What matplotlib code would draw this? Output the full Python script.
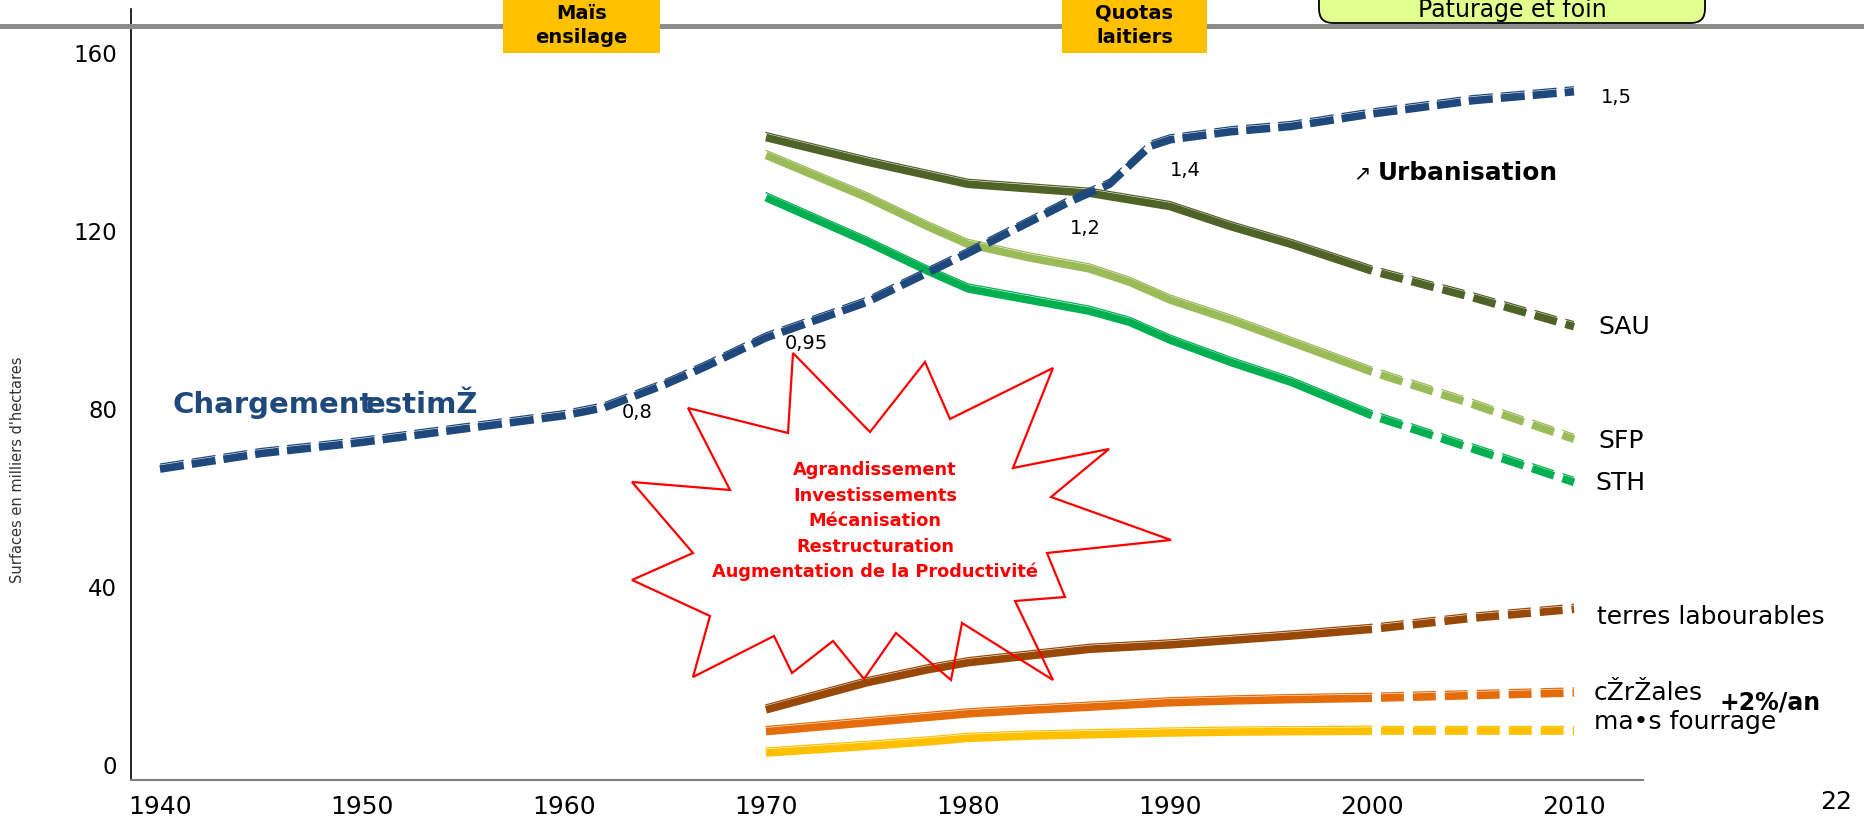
import matplotlib
matplotlib.use("Agg")
import matplotlib.pyplot as plt
from matplotlib.transforms import IdentityTransform, offset_copy
from matplotlib.patches import Polygon, Rectangle, FancyBboxPatch
from matplotlib.lines import Line2D

W, H = 1865, 822

# ---------------- data ----------------
charge_years = [1940, 1945, 1950, 1955, 1960, 1962, 1965, 1967, 1970, 1975, 1980,
                1985, 1987, 1989, 1990, 1993, 1996, 2000, 2005, 2010]
charge_vals = [66.5, 70, 72.5, 75.5, 78.5, 80.3, 85.5, 89.5, 96, 104, 115,
               126.5, 130.5, 139, 140.5, 142.3, 143.5, 146.3, 149.3, 151.3]
charge_labels = ["0,8", "0,95", "1,2", "1,4", "1,5"]

years = [1970, 1975, 1978, 1980, 1983, 1986, 1988, 1990, 1993, 1996, 2000, 2005, 2010]
sau = [141, 135.5, 132.5, 130.5, 129.5, 128.5, 127, 125.5, 121, 117, 111, 105, 98.5]
sfp = [137, 127.5, 121, 117, 114, 111.5, 108.5, 104.5, 100, 95, 88.3, 81, 73.2]
sth = [127.5, 117.5, 111, 107, 104.5, 102, 99.5, 95.5, 90.5, 86, 78.5, 71, 63.5]
terres = [12.4, 18.5, 21.4, 23, 24.5, 26, 26.5, 27, 28, 29, 30.5, 33, 35]
cereales = [7.5, 9.5, 10.7, 11.5, 12.3, 13, 13.5, 14, 14.4, 14.7, 15, 15.6, 16.2]
mais = [2.7, 4.2, 5.2, 6, 6.5, 6.8, 7, 7.2, 7.4, 7.5, 7.6, 7.6, 7.6]
series_names = ["SAU", "SFP", "STH", "terres labourables", "cŽrŽales", "ma•s fourrage"]
series_colors = ["#4f6228", "#9bbb59", "#00b050", "#984807", "#e46c0a", "#ffc000"]
proj_start = 2000

x_ticks = [1940, 1950, 1960, 1970, 1980, 1990, 2000, 2010]
y_ticks = [0, 40, 80, 120, 160]

# ---------------- figure ----------------
fig = plt.figure(figsize=(W / 100, H / 100), dpi=100)
ax = fig.add_axes([131 / W, (H - 780) / H, (1643 - 131) / W, (780 - 9) / H])
ax.set_facecolor("none")
ax.set_xlim(1940 - 29 / 20.2, 1940 + (1643 - 160) / 20.2)
ax.set_ylim(-(780 - 765) / 4.45, (765 - 9) / 4.45)
ax.set_xticks(x_ticks)
ax.set_yticks(y_ticks)
ax.tick_params(axis="both", length=0)
ax.tick_params(axis="x", labelsize=18, pad=11)
ax.tick_params(axis="y", labelsize=16.5, pad=10)
for s in ("top", "right"):
    ax.spines[s].set_visible(False)
ax.spines["left"].set_color("black")
ax.spines["left"].set_linewidth(1.2)
ax.spines["bottom"].set_color("#7f7f7f")
ax.spines["bottom"].set_linewidth(1.5)

LW = 5.5
shadow = offset_copy(ax.transData, fig=fig, x=0, y=5, units="dots")

# chargement (dashed all along)
ax.plot(charge_years, charge_vals, color="#1f497d", lw=LW,
        linestyle=(0, (3.15, 1.05)), dash_capstyle="butt", solid_capstyle="butt", zorder=4)
ax.plot(charge_years, charge_vals, color="#1f497d", lw=0.9,
        linestyle=(0, (3.15 * LW / 0.9, 1.05 * LW / 0.9)), transform=shadow, zorder=4)

for vals, col in zip([sau, sfp, sth, terres, cereales, mais], series_colors):
    ys_solid = [y for y in years if y <= proj_start]
    vs_solid = vals[:len(ys_solid)]
    ys_proj = [y for y in years if y >= proj_start]
    vs_proj = vals[len(ys_solid) - 1:]
    ax.plot(ys_solid, vs_solid, color=col, lw=LW, solid_capstyle="butt", zorder=3)
    ax.plot(ys_solid, vs_solid, color=col, lw=0.9, transform=shadow, zorder=3)
    ax.plot(ys_proj, vs_proj, color=col, lw=LW, linestyle=(3.0, (3.0, 1.18)),
            dash_capstyle="butt", zorder=3)
    ax.plot(ys_proj, vs_proj, color=col, lw=0.9, transform=shadow,
            linestyle=(3.0 * LW / 0.9, (3.0 * LW / 0.9, 1.18 * LW / 0.9)), zorder=3)

T = IdentityTransform()


def P(x, y):
    return x, H - y


# ---------------- header decorations ----------------
fig.add_artist(Line2D([0, W], [H - 26, H - 26], transform=T, color="#8c8c8c", lw=3.6, zorder=1))

for (x0, x1), lines in [((503, 660), ["Maïs", "ensilage"]), ((1062, 1207), ["Quotas", "laitiers"])]:
    fig.add_artist(Rectangle(P(x0, 53), x1 - x0, 80, transform=T, facecolor="#ffc000",
                             edgecolor="none", zorder=2))
    cx = (x0 + x1) / 2
    for ty, t in zip([13, 37], lines):
        fig.text(*P(cx, ty), t, transform=T, ha="center", va="center", fontsize=14,
                 fontweight="bold", color="black", zorder=3)

fig.add_artist(FancyBboxPatch(P(1319, 23), 1705 - 1319, 60, transform=T,
                              boxstyle="round,pad=0,rounding_size=14",
                              facecolor="#e0ff8f", edgecolor="black", lw=1.3, zorder=2))
fig.text(*P(1512, 17), "Paturage et foin", transform=T, ha="center", va="baseline",
         fontsize=17, color="black", zorder=3)

# ---------------- labels ----------------
fig.text(*P(172, 413), "Chargement", transform=T, ha="left", va="baseline", fontsize=21,
         fontweight="bold", color="#1f497d")
fig.text(*P(366, 413), "estimŽ", transform=T, ha="left", va="baseline", fontsize=21,
         fontweight="bold", color="#1f497d")

for (lx, ly), t in zip([(637, 412), (806, 343), (1085, 228), (1185, 170), (1616, 97)], charge_labels):
    fig.text(*P(lx, ly), t, transform=T, ha="center", va="center", fontsize=14, color="black")

label_pos = [(1598, 327), (1598, 441), (1595, 483), (1597, 617), (1594, 693), (1594, 722)]
for (lx, ly), t in zip(label_pos, series_names):
    fig.text(*P(lx, ly), t, transform=T, ha="left", va="center", fontsize=18, color="black")
fig.text(*P(1720, 702), "+2%/an", transform=T, ha="left", va="center", fontsize=17,
         fontweight="bold", color="black")

fig.text(*P(1353, 173), "↗", transform=T, ha="left", va="center", fontsize=15, color="black")
fig.text(*P(1378, 173), "Urbanisation", transform=T, ha="left", va="center", fontsize=17.8,
         fontweight="bold", color="black")

fig.text(*P(18, 470), "Surfaces en milliers d'hectares", transform=T, ha="center", va="center",
         rotation=90, fontsize=10.5, color="#333333")

fig.text(*P(1820, 790), "22", transform=T, ha="left", va="top", fontsize=18, color="black")

# ---------------- starburst ----------------
star = [(688, 408), (788, 433), (793, 353), (870, 432), (925, 362), (950, 419), (1053, 368),
        (1013, 468), (1109, 449), (1051, 497), (1171, 540), (1047, 553), (1065, 597),
        (1015, 601), (1053, 680), (962, 623), (951, 680), (896, 633), (864, 679), (833, 641),
        (792, 673), (774, 636), (693, 677), (710, 616), (632, 580), (693, 553), (632, 482),
        (730, 490)]
fig.add_artist(Polygon([P(x, y) for x, y in star], closed=True, transform=T, fill=False,
                       edgecolor="#ff0000", lw=1.6, zorder=5))
star_text = ["Agrandissement", "Investissements", "Mécanisation", "Restructuration",
             "Augmentation de la Productivité"]
for ty, t in zip([470, 496, 521, 547, 572], star_text):
    fig.text(*P(875, ty), t, transform=T, ha="center", va="center", fontsize=12.8,
             fontweight="bold", color="#ff0000", zorder=6)

fig.savefig("out.png", dpi=100)
